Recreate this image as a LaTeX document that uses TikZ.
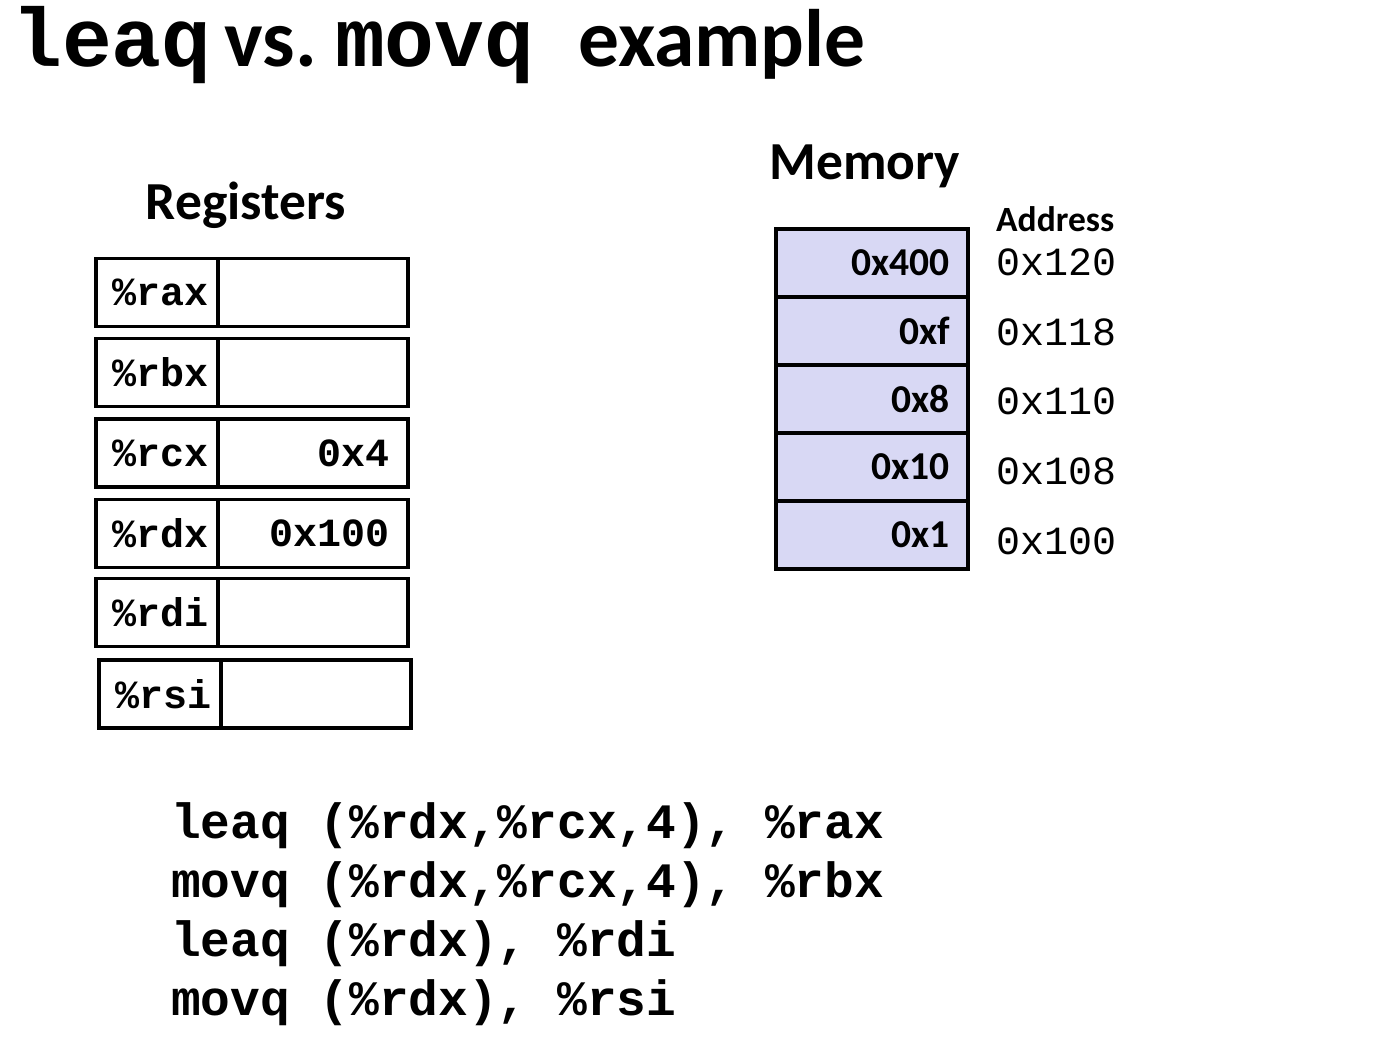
\documentclass[tikz,border=0pt]{standalone}
\usepackage{fontspec}
\usetikzlibrary{positioning}
\newfontfamily\codefont{Liberation Mono}
\newfontfamily\labelfont{Carlito}
\definecolor{memfill}{RGB}{216,216,244}

\begin{document}
\begin{tikzpicture}[x=1pt, y=-1pt,
        box/.style={draw, line width=3.5pt, outer sep=0pt, inner sep=0pt, minimum height=68pt},
        regname/.style={box, text width=104pt, inner xsep=9pt, align=right, font=\codefont\bfseries\fontsize{40}{44}\selectfont},
        regval/.style={box, text width=154pt, inner xsep=18pt, align=right, font=\codefont\bfseries\fontsize{40}{44}\selectfont},
        memcell/.style={box, fill=memfill, text width=156pt, inner xsep=18pt, align=right, font=\labelfont\bfseries\fontsize{39.5}{42}\selectfont},
        addr/.style={anchor=west, inner sep=0pt, font=\codefont\fontsize{40}{44}\selectfont},
        heading/.style={font=\labelfont\bfseries\fontsize{53.5}{58}\selectfont}]
            \useasboundingbox (0,0) rectangle (1396,1046);

            \node[anchor=base west, inner sep=0pt] (title) at (12,67)
                {{\codefont\bfseries\fontsize{83}{90}\selectfont leaq}\hspace{13pt}{\labelfont\bfseries\fontsize{81.5}{90}\selectfont vs.}\hspace{18pt}{\codefont\bfseries\fontsize{83}{90}\selectfont movq}\hspace{44pt}{\labelfont\bfseries\fontsize{81.5}{90}\selectfont example}};

            \node[heading] (registers) at (246,205) {Registers};
            \node[regname] (rax) at (157,292.5) {\%rax};
            \node[regval, right=0pt of rax] (raxv) {};
            \node[regname] (rbx) at (157,372.5) {\%rbx};
            \node[regval, right=0pt of rbx] (rbxv) {};
            \node[regname] (rcx) at (157,453) {\%rcx};
            \node[regval, right=0pt of rcx] (rcxv) {0x4};
            \node[regname] (rdx) at (157,533.5) {\%rdx};
            \node[regval, right=0pt of rdx] (rdxv) {0x100};
            \node[regname] (rdi) at (157,612.5) {\%rdi};
            \node[regval, right=0pt of rdi] (rdiv) {};
            \node[regname] (rsi) at (160,694) {\%rsi};
            \node[regval, right=0pt of rsi] (rsiv) {};

            \node[heading] (memory) at (865,166) {Memory};
            \node[memcell] (m120) at (872,263) {0x400};
            \node[memcell, below=0pt of m120] (m118) {0xf};
            \node[memcell, below=0pt of m118] (m110) {0x8};
            \node[memcell, below=0pt of m110] (m108) {0x10};
            \node[memcell, below=0pt of m108] (m100) {0x1};

            \node[anchor=west, inner sep=0pt, font=\labelfont\bfseries\fontsize{35.5}{38}\selectfont] (address) at (996,219) {Address};
            \node[addr] (a120) at (996,262) {0x120};
            \node[addr] (a118) at (996,332) {0x118};
            \node[addr] (a110) at (996,401) {0x110};
            \node[addr] (a108) at (996,471) {0x108};
            \node[addr] (a100) at (996,541) {0x100};

            \node[anchor=base west, inner sep=0pt, align=left, font=\codefont\bfseries\fontsize{49.5}{59}\selectfont] (code) at (171,1015)
                {leaq (\%rdx,\%rcx,4), \%rax\\
                 movq (\%rdx,\%rcx,4), \%rbx\\
                 leaq (\%rdx), \%rdi\\
                 movq (\%rdx), \%rsi};
        \end{tikzpicture}
\end{document}
